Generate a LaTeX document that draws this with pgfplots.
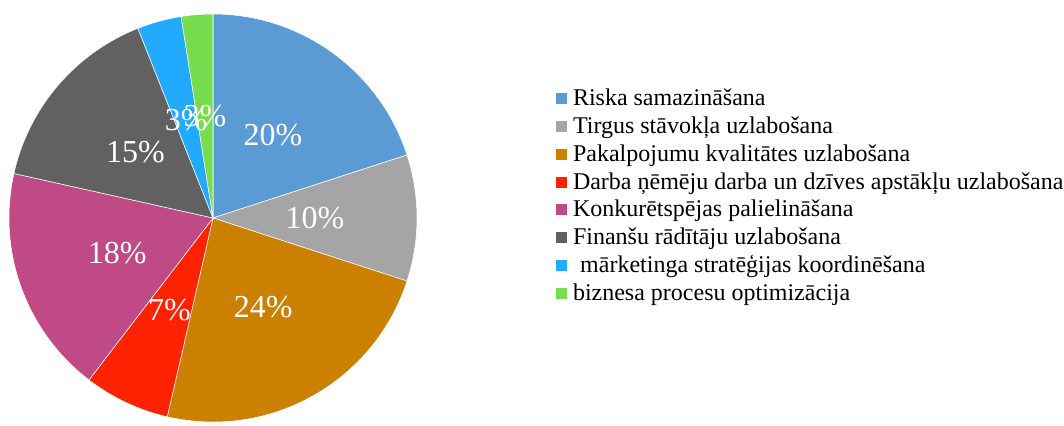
\documentclass[border=0pt]{standalone}
\usepackage{fontspec}
\setmainfont{Liberation Serif}
\usepackage{pgfplots}
\usepackage{pgfplotstable}
\pgfplotsset{compat=1.18}
\definecolor{c1}{HTML}{5B9BD5}
\definecolor{c2}{HTML}{A5A5A5}
\definecolor{c3}{HTML}{CC8000}
\definecolor{c4}{HTML}{FF2200}
\definecolor{c5}{HTML}{C04A86}
\definecolor{c6}{HTML}{616161}
\definecolor{c7}{HTML}{22AAFF}
\definecolor{c8}{HTML}{77DD4F}
\pgfplotstableread{
value label col
20   20 c1
10   10 c2
23.6 24 c3
6.8  7  c4
18.1 18 c5
15.5 15 c6
3.5  3  c7
2.5  3  c8
}\piedata
\tikzset{slicelabel/.style={text=white, font=\fontsize{24}{28}\selectfont, inner sep=0pt}}
\begin{document}
\begin{tikzpicture}
\useasboundingbox (0,0) rectangle (798pt,318.75pt);
\begin{axis}[
  at={(159.75pt,155.25pt)}, anchor=origin,
  hide axis, x=153pt, y=153pt,
  xmin=-1, xmax=1, ymin=-1, ymax=1, clip=false,
  legend style={at={(1.3407,0.8203)}, anchor=north west, draw=none, fill=none,
    inner sep=0pt, outer sep=0pt, font=\fontsize{18}{20.8}\selectfont,
    nodes={inner sep=0pt, text height=14pt, text depth=6.8pt},
    column sep=4.5pt, row sep=0pt},
  legend cell align=left,
  legend image code/.code={\path[#1, draw=none] (0pt,-2.475pt) rectangle (8.25pt,5.775pt);},
  legend entries={Riska samazināšana, Tirgus stāvokļa uzlabošana, Pakalpojumu kvalitātes uzlabošana, Darba ņēmēju darba un dzīves apstākļu uzlabošana, Konkurētspējas palielināšana, Finanšu rādītāju uzlabošana, {\hspace*{0.3em}mārketinga stratēģijas koordinēšana}, biznesa procesu optimizācija},
]
\pgfplotstablegetrowsof{\piedata}
\pgfmathtruncatemacro\sN{\pgfplotsretval-1}
\def\scum{90}
\pgfplotsforeachungrouped \si in {0,...,\sN}{%
  \pgfplotstablegetelem{\si}{value}\of\piedata \let\sval\pgfplotsretval
  \pgfplotstablegetelem{\si}{col}\of\piedata \let\scol\pgfplotsretval
  \pgfmathsetmacro\sa{\scum}%
  \pgfmathsetmacro\sb{\scum-3.6*\sval}%
  \pgfmathsetmacro\sax{cos(\sa)}%
  \pgfmathsetmacro\say{sin(\sa)}%
  \edef\scmd{%
    \noexpand\fill[\scol, draw=white, line width=0.4pt] (axis cs:0,0) -- (axis cs:\sax,\say) arc[start angle=\sa, end angle=\sb, radius=153pt] -- cycle;
    \noexpand\addlegendimage{fill=\scol}%
  }\scmd
  \global\let\scum\sb
}
\def\scum{90}
\pgfplotsforeachungrouped \si in {0,...,\sN}{%
  \pgfplotstablegetelem{\si}{value}\of\piedata \let\sval\pgfplotsretval
  \pgfplotstablegetelem{\si}{label}\of\piedata \let\slbl\pgfplotsretval
  \pgfmathsetmacro\sa{\scum}%
  \pgfmathsetmacro\sb{\scum-3.6*\sval}%
  \pgfmathsetmacro\smx{0.5*cos((\sa+\sb)/2)}%
  \pgfmathsetmacro\smy{0.5*sin((\sa+\sb)/2)}%
  \edef\scmd{%
    \noexpand\node[slicelabel] at (axis cs:\smx,\smy) {\slbl\noexpand\%};
  }\scmd
  \global\let\scum\sb
}
\end{axis}
\end{tikzpicture}
\end{document}
